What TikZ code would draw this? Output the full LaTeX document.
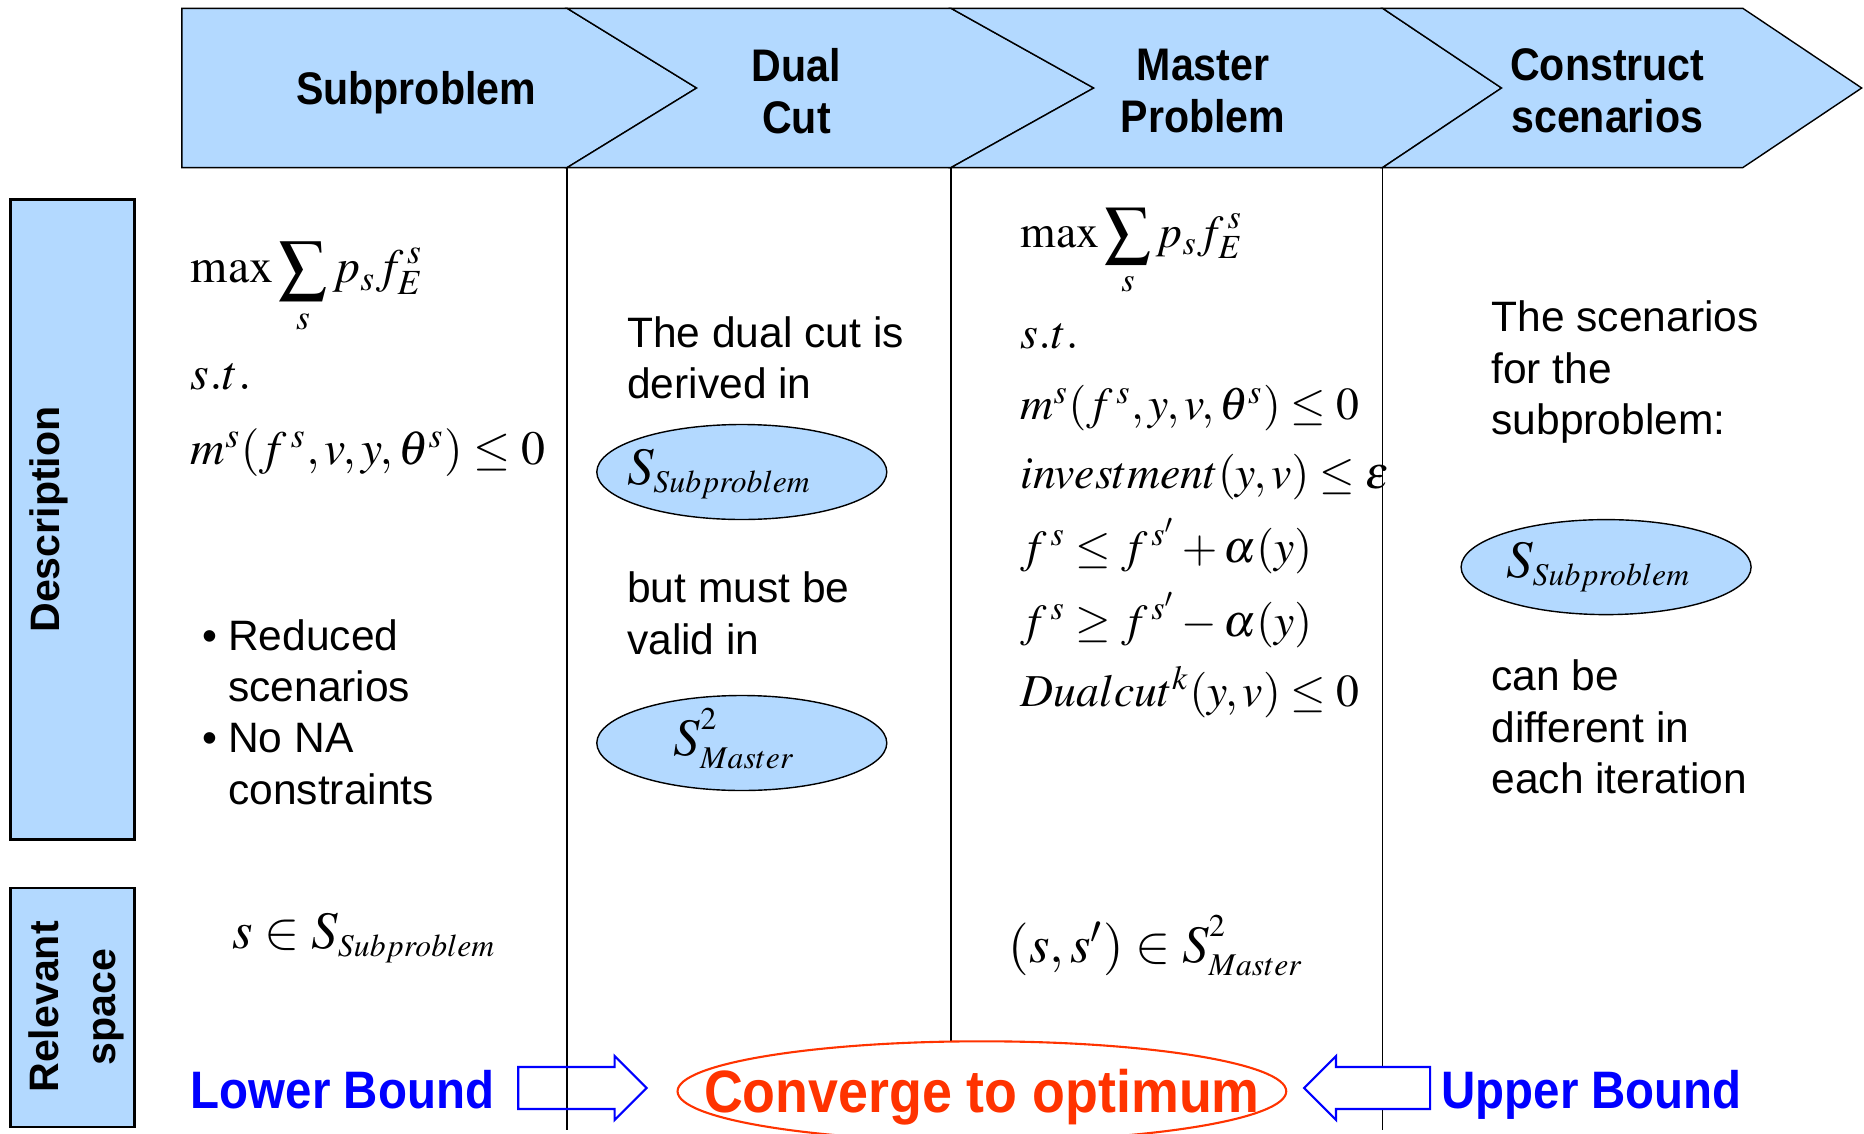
\documentclass[tikz,border=0pt]{standalone}
\usepackage{mathptmx}
\usepackage[no-math]{fontspec}
\setmainfont{Liberation Sans}
\newfontfamily\narrowsans{Liberation Sans}[FakeStretch=0.9]
\usepackage{xcolor}
\definecolor{bdblue}{RGB}{179,217,255}
\definecolor{bdred}{RGB}{255,51,0}
\definecolor{bdink}{RGB}{0,0,255}
\usetikzlibrary{shapes.geometric}

\begin{document}
\begin{tikzpicture}[
  hdrtext/.style={font=\narrowsans\bfseries\fontsize{13}{14.8}\selectfont, align=center, inner sep=0pt},
  sidetext/.style={font=\bfseries\fontsize{11.7}{16.2}\selectfont, rotate=90, align=center, inner sep=0pt},
  bodytext/.style={font=\fontsize{12.1}{14.6}\selectfont, anchor=base west, inner sep=0pt},
  mathline/.style={font=\fontsize{13}{16}\selectfont, anchor=base west, inner sep=0pt},
  setline/.style={font=\fontsize{15}{18}\selectfont, anchor=base west, inner sep=0pt},
  setell/.style={ellipse, draw=black, thin, fill=bdblue, minimum width=2.9cm, minimum height=0.95cm, inner sep=0pt, font=\fontsize{15}{18}\selectfont},
  bound/.style={font=\narrowsans\bfseries\fontsize{15}{18}\selectfont, text=bdink, anchor=base west, inner sep=0pt}
]
  \useasboundingbox (0,0) rectangle (18.64,11.33);

  % Header chevrons
  \draw[thin, fill=bdblue] (1.819,11.247) -- (5.671,11.247) -- (6.966,10.450) -- (5.671,9.654) -- (1.819,9.654) -- cycle;
  \draw[thin, fill=bdblue] (5.671,11.247) -- (9.510,11.247) -- (10.937,10.450) -- (9.510,9.654) -- (5.671,9.654) -- (6.966,10.450) -- cycle;
  \draw[thin, fill=bdblue] (9.510,11.247) -- (13.826,11.247) -- (15.015,10.450) -- (13.826,9.654) -- (9.510,9.654) -- (10.937,10.450) -- cycle;
  \draw[thin, fill=bdblue] (13.826,11.247) -- (17.428,11.247) -- (18.617,10.450) -- (17.428,9.654) -- (13.826,9.654) -- (15.015,10.450) -- cycle;
  \node[hdrtext] (hsub) at (4.161,10.400) {Subproblem};
  \node[hdrtext] (hcut) at (7.965,10.420) {Dual\\Cut};
  \node[hdrtext] (hmas) at (12.031,10.420) {Master\\Problem};
  \node[hdrtext] (hcon) at (16.073,10.420) {Construct\\scenarios};

  % Column dividers
  \draw[thin] (5.671,9.654) -- (5.671,0.03);
  \draw[thin] (9.510,9.654) -- (9.510,0.60);
  \draw[thin] (13.826,9.654) -- (13.826,0.03);

  % Row labels
  \draw[thick, fill=bdblue] (0.107,9.333) rectangle (1.343,2.937);
  \node[sidetext] (ldesc) at (0.487,6.135) {Description};
  \draw[thick, fill=bdblue] (0.107,2.450) rectangle (1.343,0.060);
  \node[sidetext] (lspace) at (0.761,1.261) {Relevant\\space};

  % Subproblem column
  \node[mathline, font=\fontsize{13.6}{16}\selectfont] (sobj) at (1.902,8.501) {$\displaystyle \max\sum_{s} p_{s} f_{E}^{\,s}$};
  \node[mathline, font=\fontsize{13.6}{16}\selectfont] (sst) at (1.902,7.431) {$s.t.$};
  \node[mathline, font=\fontsize{13.6}{16}\selectfont] (scon) at (1.902,6.682) {$m^{s}(f^{\,s}, v, y, \theta^{s}) \le 0$};
  \node[bodytext] (snote) at (2.021,4.827) {\begin{tabular}[t]{@{}l@{\hspace{3pt}}l@{}}\textbullet & Reduced\\ & scenarios\\ \textbullet & No NA\\ & constraints\end{tabular}};
  \node[setline] (sspace) at (2.318,1.843) {$s \in S_{\scriptscriptstyle Subproblem}$};

  % Dual cut column
  \node[bodytext] (dtop) at (6.265,7.859) {\begin{tabular}[t]{@{}l@{}}The dual cut is\\ derived in\end{tabular}};
  \node[setell] (dsub) at (7.418,6.610) {\makebox[0pt]{\raisebox{-3.5pt}[0pt][0pt]{$S_{\scriptscriptstyle Subproblem}$}\hspace{0.45cm}}};
  \node[bodytext] (dmid) at (6.265,5.303) {\begin{tabular}[t]{@{}l@{}}but must be\\ valid in\end{tabular}};
  \node[setell] (dmas) at (7.418,3.900) {\makebox[0pt]{\raisebox{-3.5pt}[0pt][0pt]{$S^{\raisebox{2pt}{$\scriptscriptstyle 2$}}_{\scriptscriptstyle Master}$}\hspace{0.15cm}}};

  % Master problem column
  \node[mathline] (mobj) at (10.200,8.857) {$\displaystyle \max\sum_{s} p_{s} f_{E}^{\,s}$};
  \node[mathline] (mst) at (10.200,7.847) {$s.t.$};
  \node[mathline] (mcon) at (10.200,7.134) {$m^{s}(f^{\,s}, y, v, \theta^{s}) \le 0$};
  \node[mathline] (minv) at (10.200,6.444) {$investment(y, v) \le \varepsilon$};
  \node[mathline] (mup) at (10.200,5.707) {$f^{\,s} \le f^{\,s'} + \alpha(y)$};
  \node[mathline] (mlo) at (10.200,4.970) {$f^{\,s} \ge f^{\,s'} - \alpha(y)$};
  \node[mathline] (mcut) at (10.200,4.269) {$Dualcut^{k}(y, v) \le 0$};
  \node[setline] (mspace) at (10.081,1.701) {$(s, s') \in S^{\raisebox{2pt}{$\scriptscriptstyle 2$}}_{\scriptscriptstyle Master}$};

  % Construct scenarios column
  \node[bodytext] (ctop) at (14.908,8.013) {\begin{tabular}[t]{@{}l@{}}The scenarios\\ for the\\ subproblem:\end{tabular}};
  \node[setell] (csub) at (16.061,5.659) {\makebox[0pt]{\raisebox{-3pt}[0pt][0pt]{$S_{\scriptscriptstyle Subproblem}$}\hspace{0.15cm}}};
  \node[bodytext] (cbot) at (14.908,4.423) {\begin{tabular}[t]{@{}l@{}}can be\\ different in\\ each iteration\end{tabular}};

  % Bounds
  \node[bound] (lower) at (1.902,0.25) {Lower Bound};
  \draw[bdink, semithick] (5.183,0.24) -- (6.146,0.24) -- (6.146,0.13) -- (6.467,0.45) -- (6.146,0.77) -- (6.146,0.66) -- (5.183,0.66) -- cycle;
  \node[ellipse, draw=bdred, semithick, fill=white, minimum width=6.087cm, minimum height=1.0cm, inner sep=0pt,
        font=\narrowsans\bfseries\fontsize{17}{20}\selectfont, text=bdred] (conv) at (9.819,0.417) {\makebox[0pt]{\raisebox{-6pt}[0pt][0pt]{Converge to optimum}}};
  \draw[bdink, semithick, fill=white] (14.301,0.24) -- (13.36,0.24) -- (13.36,0.13) -- (13.041,0.45) -- (13.36,0.77) -- (13.36,0.66) -- (14.301,0.66) -- cycle;
  \node[bound] (upper) at (14.408,0.25) {Upper Bound};
\end{tikzpicture}
\end{document}
